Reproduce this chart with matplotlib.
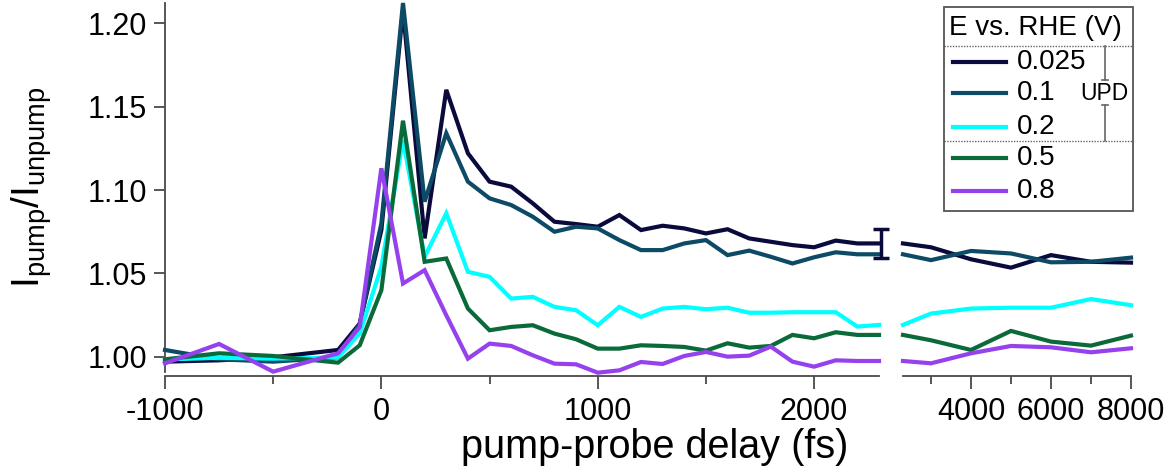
import numpy as np
import matplotlib
matplotlib.use("Agg")
import matplotlib.pyplot as plt
from matplotlib.lines import Line2D
from matplotlib.patches import Rectangle

plt.rcParams['font.family'] = ['Liberation Sans', 'DejaVu Sans']
plt.rcParams['mathtext.fontset'] = 'custom'
plt.rcParams['mathtext.rm'] = 'Liberation Sans'
plt.rcParams['mathtext.it'] = 'Liberation Sans'
plt.rcParams['axes.unicode_minus'] = False

# delays (fs) - short range panel and long range panel (2300 is shared)
t_short = [-1000, -750, -500, -200, -100, 0, 100, 200, 300, 400, 500, 600, 700, 800, 900,
           1000, 1100, 1200, 1300, 1400, 1500, 1600, 1700, 1800, 1900, 2000, 2100, 2200, 2300]
t_long = [2300, 3000, 4000, 5000, 6000, 7000, 8000]

potentials = ['0.025', '0.1', '0.2', '0.5', '0.8']
colors = ['#0a0a3c', '#0d4a66', '#00ffff', '#0a6a3a', '#9641ee']

ratio_short = {
    '0.025': [0.9972, 0.998, 0.9998, 1.0042, 1.020, 1.076, 1.208, 1.071, 1.160, 1.122, 1.105, 1.102, 1.092, 1.081,
              1.0796, 1.078, 1.085, 1.076, 1.0786, 1.077, 1.074, 1.0765, 1.071, 1.069, 1.067, 1.0657, 1.0697, 1.068, 1.068],
    '0.1': [1.0042, 0.9986, 0.9972, 0.9998, 1.020, 1.080, 1.212, 1.093, 1.134, 1.105, 1.095, 1.091, 1.084, 1.075,
            1.078, 1.077, 1.070, 1.064, 1.064, 1.068, 1.070, 1.061, 1.0637, 1.060, 1.056, 1.0597, 1.0627, 1.0615, 1.0615],
    '0.2': [0.9985, 0.9995, 0.999, 0.9998, 1.014, 1.054, 1.130, 1.060, 1.086, 1.051, 1.048, 1.035, 1.036, 1.030,
            1.028, 1.019, 1.030, 1.024, 1.029, 1.030, 1.0286, 1.0295, 1.0265, 1.0265, 1.0268, 1.0268, 1.0268, 1.0182, 1.0192],
    '0.5': [0.9986, 1.0022, 1.0006, 0.9966, 1.007, 1.040, 1.1415, 1.057, 1.059, 1.029, 1.016, 1.018, 1.019, 1.014,
            1.0106, 1.005, 1.005, 1.007, 1.0066, 1.006, 1.0038, 1.0082, 1.0056, 1.0066, 1.0132, 1.0112, 1.0148, 1.0132, 1.0132],
    '0.8': [0.9962, 1.0078, 0.9912, 1.0022, 1.018, 1.113, 1.044, 1.052, 1.025, 0.999, 1.008, 1.0066, 1.001, 0.996,
            0.9956, 0.9906, 0.992, 0.997, 0.9958, 1.0006, 1.003, 1.0002, 1.0008, 1.0062, 0.9972, 0.9942, 0.998, 0.9976, 0.9976],
}
ratio_long = {
    '0.025': [1.068, 1.0657, 1.0585, 1.0535, 1.061, 1.057, 1.0565],
    '0.1': [1.0615, 1.058, 1.0635, 1.062, 1.0567, 1.057, 1.0595],
    '0.2': [1.0192, 1.026, 1.029, 1.0295, 1.0295, 1.0347, 1.031],
    '0.5': [1.0132, 1.010, 1.0042, 1.0156, 1.0092, 1.0068, 1.0128],
    '0.8': [0.9976, 0.9962, 1.0022, 1.0066, 1.0058, 1.0028, 1.0052],
}
# representative error bar at the end of the short range
err_t, err_y, err_size = 2310, 1.068, 0.0085

W, H = 1173, 475
fig = plt.figure(figsize=(W / 100, H / 100), dpi=100)

def fx(px):
    return px / W

def fy(py):
    return 1 - py / H

y_lo, y_hi = 0.991, 1.212
ax1 = fig.add_axes([fx(165), fy(372), fx(879) - fx(165), fy(3) - fy(372)])
ax2 = fig.add_axes([fx(903), fy(372), fx(1131) - fx(903), fy(3) - fy(372)])

for p, c in zip(potentials, colors):
    ax1.plot(t_short, ratio_short[p], color=c, lw=3, solid_joinstyle='miter', clip_on=False, zorder=3)
    ax2.plot(t_long, ratio_long[p], color=c, lw=3, solid_joinstyle='miter', clip_on=False, zorder=3)

ax1.errorbar([err_t], [err_y], yerr=[err_size], color=colors[0], elinewidth=2.5,
             capsize=6, capthick=2.5, fmt='none', clip_on=False, zorder=4)

axis_col = '#4a4a4a'
for ax in (ax1, ax2):
    ax.set_ylim(y_lo, y_hi)
    ax.spines['top'].set_visible(False)
    ax.spines['right'].set_visible(False)
    ax.spines['bottom'].set_color(axis_col)
    ax.spines['left'].set_color(axis_col)
    ax.spines['bottom'].set_linewidth(1.3)
    ax.spines['left'].set_linewidth(1.3)
    ax.spines['bottom'].set_position(('outward', 3))
    ax.tick_params(which='both', direction='out', color=axis_col, width=1.3, labelsize=22, colors='black')
    ax.tick_params(axis='x', which='major', length=9, pad=6)
    ax.tick_params(axis='x', which='minor', length=6)
    ax.patch.set_alpha(0)

ax1.set_xlim(-1000, 2300)
ax1.set_xticks([-1000, 0, 1000, 2000])
ax1.set_xticks([-500, 500, 1500], minor=True)
ax1.set_yticks([1.00, 1.05, 1.10, 1.15, 1.20])
ax1.set_yticklabels(['1.00', '1.05', '1.10', '1.15', '1.20'])
ax1.tick_params(axis='y', length=8, pad=5)

ax2.set_xlim(2300, 8000)
ax2.set_xticks([4000, 6000, 8000])
ax2.set_xticks([3000, 5000, 7000], minor=True)
ax2.spines['left'].set_visible(False)
ax2.tick_params(axis='y', left=False, labelleft=False)

ax1.set_ylabel(r'$\mathrm{I_{pump}/I_{unpump}}$', fontsize=28)
ax1.yaxis.set_label_coords((54 - 165) / 714, 0.5)
fig.text(fx(655), fy(447), 'pump-probe delay (fs)', fontsize=28.5, ha='center', va='center')

# legend drawn by hand (title, dotted separators, UPD bracket)
box_l, box_r, box_t, box_b = 944, 1133, 7, 211
fig.patches.append(Rectangle((fx(box_l), fy(box_b)), fx(box_r) - fx(box_l), fy(box_t) - fy(box_b),
                             transform=fig.transFigure, fill=True, facecolor='white',
                             edgecolor='#555555', lw=1.3, zorder=5))
fig.text(fx(949), fy(28), 'E vs. RHE (V)', fontsize=20, ha='left', va='center', zorder=6)
for ysep in (45.7, 140.7):
    fig.lines.append(Line2D([fx(box_l), fx(box_r)], [fy(ysep), fy(ysep)], transform=fig.transFigure,
                            color='#666666', lw=1.0, ls=(0, (1, 1)), zorder=6))
entry_y = [61.7, 93.3, 126.7, 158.3, 190.7]
for p, c, ey in zip(potentials, colors, entry_y):
    fig.lines.append(Line2D([fx(953), fx(1006)], [fy(ey), fy(ey)], transform=fig.transFigure,
                            color=c, lw=3, zorder=6))
    fig.text(fx(1017), fy(ey), p, fontsize=20, ha='left', va='center', zorder=6)

bx = 1105
for y0, y1 in ((45.7, 80), (105, 140.7)):
    fig.lines.append(Line2D([fx(bx), fx(bx)], [fy(y0), fy(y1)], transform=fig.transFigure,
                            color='#666666', lw=1.2, zorder=6))
for yc in (80, 105):
    fig.lines.append(Line2D([fx(bx - 3), fx(bx + 3)], [fy(yc), fy(yc)], transform=fig.transFigure,
                            color='#666666', lw=1.2, zorder=6))
fig.text(fx(1104), fy(93), 'UPD', fontsize=16.5, ha='center', va='center', zorder=7)

fig.savefig('out.png', dpi=100)
